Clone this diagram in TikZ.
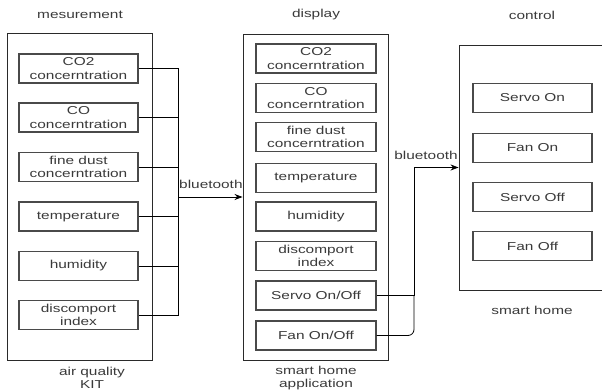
\documentclass[tikz,border=0pt]{standalone}
\usepackage{fontspec}
\setmainfont{Liberation Sans}[FakeStretch=1.34]
\usetikzlibrary{arrows.meta}
\definecolor{txt}{HTML}{3A3A3A}
\definecolor{edge}{HTML}{2A2A2A}
\tikzset{
  outerbox/.style={draw=edge, line width=0.9pt, fill=white, minimum width=145pt, inner sep=0pt},
  itembox/.style={draw=edge!85, line width=1.1pt, fill=white, minimum width=119pt, minimum height=29pt,
    inner sep=0pt, align=center, text=txt, font=\fontsize{11.5}{13.5}\selectfont},
  caption/.style={text=txt, align=center, font=\fontsize{11.5}{14}\selectfont, inner sep=0pt},
  lowcaption/.style={caption, font=\fontsize{11.5}{12.5}\selectfont},
  conn/.style={draw=black, line width=0.8pt},
  tip/.style={-{Stealth[length=8pt,width=6pt]}}
}
\begin{document}
\begin{tikzpicture}[x=1pt,y=-1pt]
\useasboundingbox (0,0) rectangle (602,390);
\clip (0,0) rectangle (602,390);

% column captions
\node[caption] (capM) at (80,15) {mesurement};
\node[caption] (capD) at (316,15) {display};
\node[caption] (capC) at (532,15) {control};

% air quality kit
\node[outerbox, minimum height=327pt] (kit) at (79.5,196.5) {};
\node[lowcaption, anchor=north] (kitlbl) at (92,367) {air quality\\KIT};
\node[itembox] (m1) at (78.5,68.5) {CO2\\concerntration};
\node[itembox] (m2) at (78.5,117.5) {CO\\concerntration};
\node[itembox] (m3) at (78.5,167) {fine dust\\concerntration};
\node[itembox] (m4) at (78.5,216.5) {temperature};
\node[itembox] (m5) at (78.5,266) {humidity};
\node[itembox] (m6) at (78.5,315) {discomport\\index};

% smart home application
\node[outerbox, minimum height=326pt] (app) at (315.5,197) {};
\node[lowcaption, anchor=north] (applbl) at (316,366) {smart home\\application};
\node[itembox, minimum width=120pt] (d1) at (316,58.5) {CO2\\concerntration};
\node[itembox, minimum width=120pt] (d2) at (316,98) {CO\\concerntration};
\node[itembox, minimum width=120pt] (d3) at (316,137) {fine dust\\concerntration};
\node[itembox, minimum width=120pt] (d4) at (316,178) {temperature};
\node[itembox, minimum width=120pt] (d5) at (316,216.5) {humidity};
\node[itembox, minimum width=120pt] (d6) at (316,256) {discomport\\index};
\node[itembox, minimum width=120pt] (servo) at (316,295.5) {Servo On/Off};
\node[itembox, minimum width=120pt] (fan) at (316,335.5) {Fan On/Off};

% smart home
\node[outerbox, minimum width=151pt, minimum height=245pt] (home) at (534.5,167.5) {};
\node[caption] (homelbl) at (532,310) {smart home};
\node[itembox] (c1) at (532.5,98) {Servo On};
\node[itembox] (c2) at (532.5,148) {Fan On};
\node[itembox] (c3) at (532.5,197) {Servo Off};
\node[itembox] (c4) at (532.5,246) {Fan Off};

% kit -> application
\coordinate (lbus) at (178,197);
\foreach \m in {m1,m2,m3,m4,m5,m6}
  \draw[conn] (\m.east) -| (lbus);
\draw[conn, tip] (lbus) -- (app.west);
\node[caption, anchor=south west] (bt1) at (179,189) {bluetooth};

% application -> smart home
\coordinate (rjoin) at (414,295.5);
\draw[conn, rounded corners=6pt] (fan.east) -| (rjoin);
\draw[conn, tip] (servo.east) -- (rjoin) |- (home.west);
\node[caption, anchor=south] (bt2) at (426,160) {bluetooth};
\end{tikzpicture}
\end{document}
